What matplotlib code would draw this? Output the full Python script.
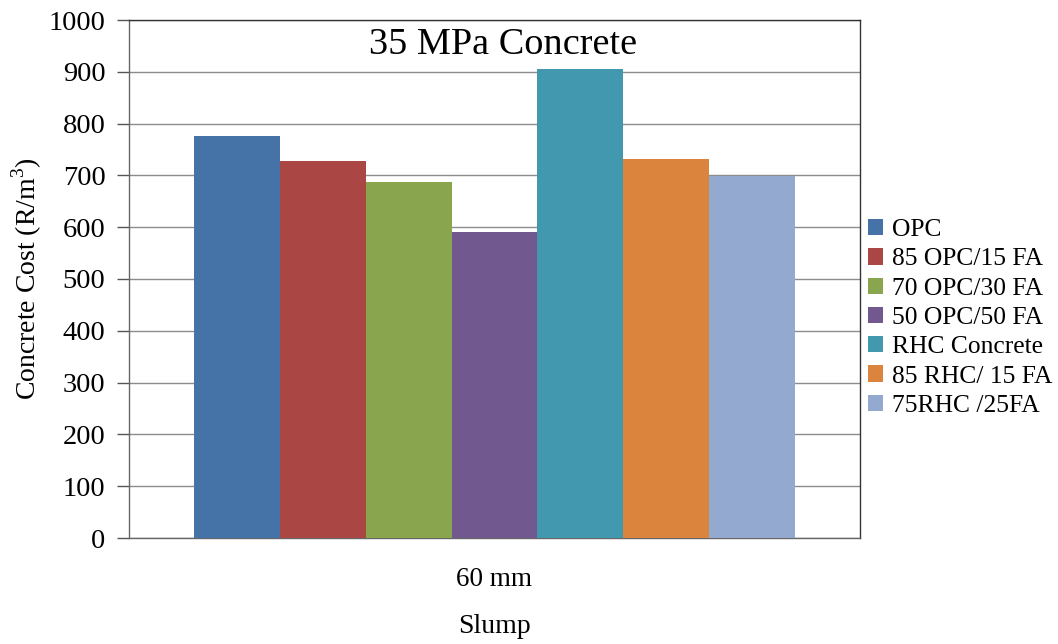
import matplotlib
matplotlib.use("Agg")
import matplotlib.pyplot as plt
import numpy as np

categories = ["60 mm"]
series_names = ["OPC", "85 OPC/15 FA", "70 OPC/30 FA", "50 OPC/50 FA",
                "RHC Concrete", "85 RHC/ 15 FA", "75RHC /25FA"]
series_values = [776, 727, 687, 591, 905, 732, 699]
colors = ["#4572A7", "#AA4643", "#89A54E", "#71588F", "#4198AF", "#DB843D", "#93A9CF"]
yticks = [0, 100, 200, 300, 400, 500, 600, 700, 800, 900, 1000]

plt.rcParams['font.family'] = ['Liberation Serif', 'DejaVu Serif']
plt.rcParams['mathtext.fontset'] = 'custom'
plt.rcParams['mathtext.rm'] = 'Liberation Serif'

fig = plt.figure(figsize=(10.58, 6.44), dpi=100)
ax = fig.add_axes([129/1058, (644-538)/644, (860-129)/1058, (538-20)/644])

n = len(series_names)
group_width = 601/731
bw = group_width / n
x0 = 0.5 - group_width/2
for i, (name, v, c) in enumerate(zip(series_names, series_values, colors)):
    ax.bar(x0 + bw*(i+0.5), v, width=bw, color=c, label=name, zorder=3, linewidth=0)

ax.set_xlim(0, 1)
ax.set_ylim(0, 1000)
ax.set_yticks(yticks)
ax.set_xticks([0.5])
ax.set_xticklabels(categories)
ax.tick_params(axis='y', labelsize=20.5, direction='out', length=9, color='#555555', width=1, pad=8)
ax.tick_params(axis='x', labelsize=19.5, length=0, pad=21)
ax.yaxis.grid(True, color='#8c8c8c', linewidth=1, zorder=0)
for s in ax.spines.values():
    s.set_color('#333333')
    s.set_linewidth(1)
ax.spines['left'].set_color('#666666')
ax.spines['bottom'].set_color('#666666')

ax.set_ylabel(r"Concrete Cost (R/m$^{\mathrm{3}}$)", fontsize=20, labelpad=3)
ax.set_xlabel("Slump", fontsize=20, labelpad=16)
ax.text((503-129)/731, 0.952, "35 MPa Concrete", transform=ax.transAxes, ha='center', va='center', fontsize=27.5)

leg = fig.legend(loc='upper left', bbox_to_anchor=(868/1058, 1-219/644), frameon=False,
                 fontsize=18.4, handlelength=0.6, handleheight=0.6, handletextpad=0.35,
                 labelspacing=0.28, borderaxespad=0, borderpad=0)

fig.savefig("out.png", dpi=100)
